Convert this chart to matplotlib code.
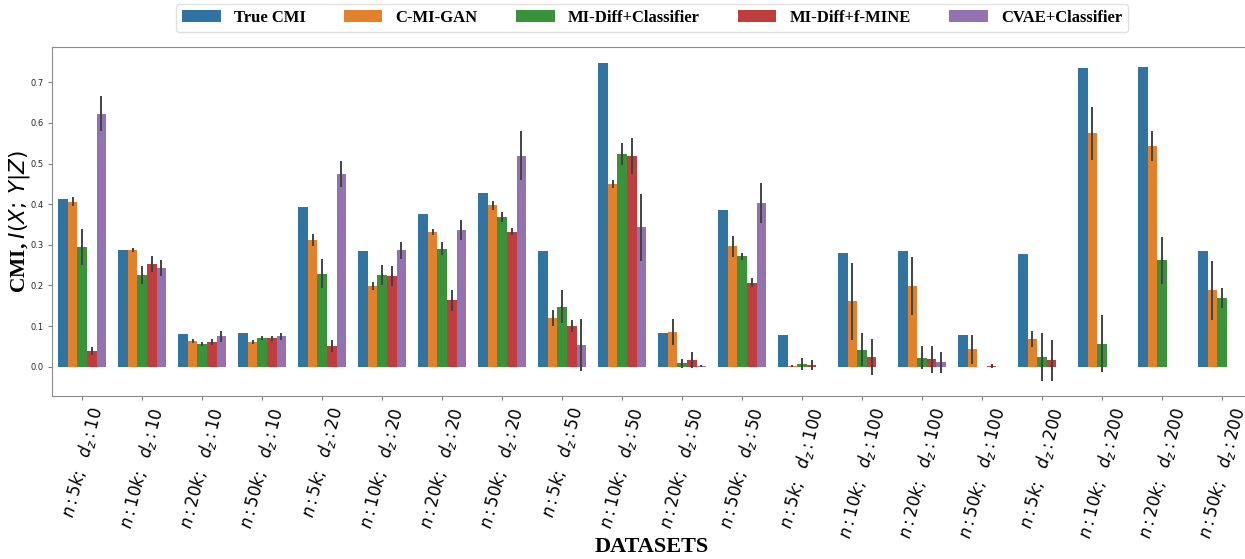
import numpy as np
import matplotlib
matplotlib.use("Agg")
import matplotlib.pyplot as plt

nan = np.nan

# dataset labels
sizes = ["5k", "10k", "20k", "50k"]
dims = ["10", "20", "50", "100", "200"]
labels = [r"$n: %s;\ \ d_z: %s$" % (n, d) for d in dims for n in sizes]

methods = ["True CMI", "C-MI-GAN", "MI-Diff+Classifier", "MI-Diff+f-MINE", "CVAE+Classifier"]
colors = ["#3274a1", "#e1812c", "#3a923a", "#c03d3e", "#9372b2"]

# mean CMI estimates per dataset
true_cmi = [0.412, 0.287, 0.080, 0.083, 0.393, 0.285, 0.376, 0.428, 0.284, 0.747,
            0.083, 0.386, 0.079, 0.279, 0.284, 0.078, 0.277, 0.734, 0.737, 0.284]
cmigan = [0.406, 0.287, 0.064, 0.061, 0.311, 0.199, 0.332, 0.397, 0.120, 0.450,
          0.085, 0.296, 0.002, 0.161, 0.199, 0.043, 0.068, 0.574, 0.543, 0.188]
midiff_cls = [0.295, 0.226, 0.056, 0.070, 0.229, 0.225, 0.290, 0.368, 0.148, 0.524,
              0.008, 0.272, 0.007, 0.042, 0.022, nan, 0.023, 0.057, 0.262, 0.169]
midiff_mine = [0.039, 0.253, 0.061, 0.070, 0.051, 0.223, 0.164, 0.332, 0.100, 0.518,
               0.016, 0.207, 0.004, 0.024, 0.018, 0.001, 0.016, nan, nan, nan]
cvae_cls = [0.623, 0.243, 0.075, 0.075, 0.474, 0.286, 0.336, 0.519, 0.053, 0.343,
            0.002, 0.402, nan, nan, 0.011, nan, nan, nan, nan, nan]

# half-width of the error bars
true_err = [0.0] * 20
cmigan_err = [0.011, 0.004, 0.005, 0.005, 0.015, 0.010, 0.007, 0.011, 0.019, 0.010,
              0.032, 0.026, 0.003, 0.095, 0.071, 0.036, 0.020, 0.066, 0.036, 0.073]
midiff_cls_err = [0.045, 0.022, 0.006, 0.005, 0.035, 0.025, 0.016, 0.013, 0.040, 0.027,
                  0.010, 0.009, 0.014, 0.040, 0.028, nan, 0.059, 0.070, 0.058, 0.025]
midiff_mine_err = [0.009, 0.019, 0.007, 0.006, 0.014, 0.024, 0.026, 0.009, 0.015, 0.045,
                   0.020, 0.012, 0.012, 0.044, 0.033, 0.005, 0.050, nan, nan, nan]
cvae_cls_err = [0.044, 0.020, 0.014, 0.008, 0.031, 0.021, 0.025, 0.060, 0.064, 0.082,
                0.003, 0.049, nan, nan, 0.026, nan, nan, nan, nan, nan]

values = [true_cmi, cmigan, midiff_cls, midiff_mine, cvae_cls]
errors = [true_err, cmigan_err, midiff_cls_err, midiff_mine_err, cvae_cls_err]

fig = plt.figure(figsize=(12.45, 5.59), dpi=100)
ax = fig.add_axes([0.042, 0.2916, 0.9636, 0.6238])

x = np.arange(len(labels))
w = 0.16
for j, (name, vals, errs, c) in enumerate(zip(methods, values, errors, colors)):
    vals = np.array(vals)
    errs = np.array(errs)
    ok = ~np.isnan(vals)
    xs = x[ok] + (j - 2) * w
    ax.bar(xs, vals[ok], width=w, color=c, label=name, linewidth=0)
    if j > 0:
        ax.vlines(xs, vals[ok] - errs[ok], vals[ok] + errs[ok],
                  color="0.26", linewidth=1.4, zorder=3)

ax.set_xlim(-0.5, len(labels) - 0.5)
ax.set_ylim(-0.072, 0.786)
ax.set_xticks(x)
ax.set_xticklabels(labels, rotation=75, fontsize=12, ha="center")
ax.tick_params(axis="y", labelsize=6, colors="0.15", length=3, color="0.5")
ax.tick_params(axis="x", length=3, color="0.5")
for s in ax.spines.values():
    s.set_color("0.55")

ax.set_ylabel(r"CMI, $I(X;\, Y|Z)$", fontsize=15.5, fontweight="bold",
              family="Liberation Serif")
ax.yaxis.set_label_coords(-0.017, 0.5)
ax.set_xlabel("DATASETS", fontsize=16, fontweight="bold", family="Liberation Serif")
ax.xaxis.set_label_coords(0.5, -0.405)

leg = ax.legend(loc="lower center", bbox_to_anchor=(0.5, 1.02), ncol=5,
                prop={"family": "Liberation Serif", "weight": "bold", "size": 12},
                frameon=True, columnspacing=2.3, handlelength=2.3, borderpad=0.35)
leg.get_frame().set_edgecolor("0.85")

fig.savefig("out.png", dpi=100)
